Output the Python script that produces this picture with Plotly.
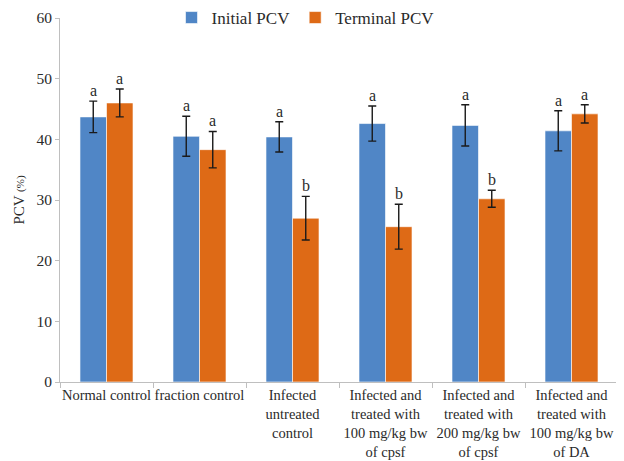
import plotly.graph_objects as go

categories = ["Normal control", "fraction control", "Infected<br>untreated<br>control",
              "Infected and<br>treated with<br>100 mg/kg bw<br>of cpsf",
              "Infected and<br>treated with<br>200 mg/kg bw<br>of cpsf",
              "Infected and<br>treated with<br>100 mg/kg bw<br>of DA"]
initial_pcv = [43.7, 40.5, 40.4, 42.6, 42.3, 41.4]
initial_err = [2.6, 3.3, 2.5, 2.9, 3.4, 3.3]
terminal_pcv = [46.0, 38.3, 27.0, 25.6, 30.2, 44.2]
terminal_err = [2.3, 3.0, 3.6, 3.7, 1.4, 1.5]
initial_letters = ["a", "a", "a", "a", "a", "a"]
terminal_letters = ["a", "a", "b", "b", "b", "a"]

BLUE = "#5086C6"
ORANGE = "#DE6A16"
FONT = "Liberation Serif, Times New Roman, serif"
TXT = "#2a2a2a"
bargap = 0.43

fig = go.Figure()
fig.add_trace(go.Bar(name="Initial PCV", x=categories, y=initial_pcv, marker_color=BLUE,
                     marker_line=dict(color="rgba(255,255,255,0.6)", width=1),
                     error_y=dict(type="data", array=initial_err, color="#1a1a1a", thickness=1.4, width=4)))
fig.add_trace(go.Bar(name="Terminal PCV", x=categories, y=terminal_pcv, marker_color=ORANGE,
                     marker_line=dict(color="rgba(255,255,255,0.6)", width=1),
                     error_y=dict(type="data", array=terminal_err, color="#1a1a1a", thickness=1.4, width=4)))

half = (1 - bargap) / 4
for i in range(len(categories)):
    for off, vals, errs, letters in [(-half, initial_pcv, initial_err, initial_letters),
                                     (half, terminal_pcv, terminal_err, terminal_letters)]:
        fig.add_annotation(x=i + off, y=vals[i] + errs[i], text=letters[i], showarrow=False,
                           xref="x", yref="y", yanchor="bottom", yshift=0,
                           font=dict(family=FONT, size=16, color=TXT))

fig.update_layout(
    width=616, height=453,
    margin=dict(l=52, r=6, t=10, b=79, autoexpand=False),
    paper_bgcolor="white", plot_bgcolor="white",
    barmode="group", bargap=bargap, bargroupgap=0,
    font=dict(family=FONT, size=15, color=TXT),
    legend=dict(orientation="h", x=0.44, xanchor="center", y=1.0, yanchor="middle",
                font=dict(family=FONT, size=17, color=TXT), bgcolor="rgba(0,0,0,0)",
                itemwidth=30, traceorder="normal"),
    xaxis=dict(showline=True, linecolor="#bfbfbf", linewidth=1, ticks="outside",
               tickson="boundaries", ticklen=5, tickcolor="#bfbfbf", tickangle=0,
               automargin=False,
               tickfont=dict(family=FONT, size=14.5, color=TXT), showgrid=False),
    yaxis=dict(range=[0, 60], dtick=10, showline=True, linecolor="#bfbfbf", linewidth=1,
               ticks="outside", ticklen=4, tickcolor="#bfbfbf", showgrid=False, zeroline=False,
               automargin=False,
               tickfont=dict(family=FONT, size=15.5, color=TXT),
               title=dict(text="PCV <span style='font-size:11px'>(%)</span>",
                          font=dict(family=FONT, size=15, color=TXT), standoff=8)),
)

fig.write_html("out.html")
